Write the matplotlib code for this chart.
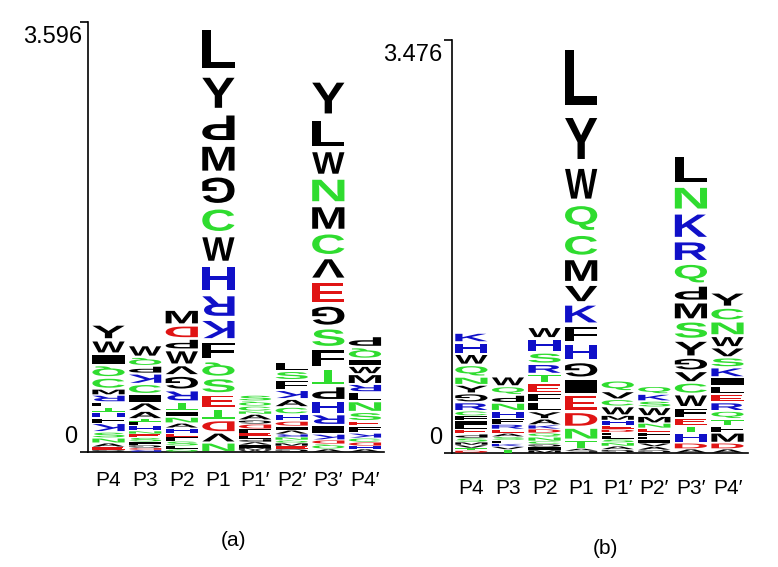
import matplotlib
matplotlib.use("Agg")
import matplotlib.pyplot as plt
import matplotlib.transforms as mtransforms
from matplotlib.patheffects import AbstractPathEffect

plt.rcParams['font.family'] = ['Liberation Sans', 'DejaVu Sans']

positions = ["P4", "P3", "P2", "P1", "P1\u2032", "P2\u2032", "P3\u2032", "P4\u2032"]

# panel (a): letters of each column from top to bottom, with their heights (bits)
letters_a = ["YWIQCMRLTHFKSNAEG", "WQPKCIVATLHNESFGDR", "MDPWVGRTINAHEFSLQ",
             "LYPMGCWHRKFQSETDVN", "SQCNAGDFELPVIMW", "LSFKACHDIVRNQMEG",
             "YLWNMCVEGSFTPHRIKDQA", "PQIWMRLNSEFKCDHA"]
bits_a = [
    [.134, .117, .092, .105, .096, .050, .059, .042, .042, .050, .042, .075, .050, .042, .033, .025, .017],
    [.100, .075, .063, .088, .084, .071, .071, .067, .025, .029, .046, .025, .029, .038, .025, .025, .017, .017],
    [.134, .113, .092, .130, .084, .125, .096, .079, .050, .050, .042, .042, .033, .033, .042, .025, .025],
    [.406, .322, .263, .255, .272, .230, .251, .247, .209, .184, .167, .142, .138, .121, .096, .105, .084, .079],
    [.050, .042, .042, .025, .050, .033, .042, .033, .025, .025, .025, .025, .025, .017, .017],
    [.075, .075, .084, .075, .067, .059, .059, .042, .033, .033, .025, .025, .025, .025, .025, .025],
    [.330, .263, .230, .230, .230, .209, .196, .201, .192, .176, .167, .146, .125, .113, .092, .075, .050, .033, .042, .025],
    [.092, .100, .059, .067, .084, .067, .075, .092, .075, .042, .059, .042, .033, .033, .025, .025],
]
ymax_a = 3.596

# panel (b)
letters_b = ["KHWQNYGRCFILEPSMVTD", "WQPNHFREASLKVT", "WHSRTEFLYAKDQNCGIM",
             "LYWQCMVKFHGIEDNTAP", "QVCWMHEDFLSNAG", "QKSWMNEFLIVAG",
             "LNKRQPMSYGVCWFETHDA", "YCNWVSKILERQTFMDA"]
bits_b = [
    [.080, .097, .093, .101, .067, .072, .076, .072, .042, .042, .034, .034, .042, .034, .034, .025, .025, .021, .021],
    [.084, .072, .067, .067, .067, .046, .042, .034, .029, .029, .029, .025, .025, .029],
    [.097, .118, .097, .084, .080, .084, .076, .076, .063, .051, .034, .034, .034, .034, .025, .025, .025, .025],
    [.585, .442, .320, .257, .202, .223, .164, .181, .156, .152, .143, .135, .143, .135, .105, .072, .021, .017],
    [.093, .067, .059, .076, .042, .042, .034, .025, .029, .029, .029, .029, .029, .029],
    [.067, .059, .051, .076, .059, .042, .034, .034, .029, .029, .029, .029, .025],
    [.261, .223, .240, .189, .189, .139, .160, .164, .147, .114, .097, .097, .114, .088, .067, .055, .088, .051, .034],
    [.130, .114, .126, .097, .084, .084, .084, .076, .063, .072, .072, .067, .059, .055, .088, .051, .034],
]
ymax_b = 3.476

# letters drawn upside down in the original figure
flipped_a = "PGQTDVRK"
flipped_b = "PG"

GREEN, BLUE, RED, BLACK = '#2fdc2f', '#1010c8', '#e01414', '#000000'


def letter_color(c):
    if c in "CNQST":
        return GREEN
    if c in "HKR":
        return BLUE
    if c in "DE":
        return RED
    return BLACK


class FitToBox(AbstractPathEffect):
    """Stretch a glyph so it fills a box given in data coordinates."""

    def __init__(self, ax, x0, y0, x1, y1, flip=False):
        super().__init__()
        self.ax = ax
        self.box = (x0, y0, x1, y1)
        self.flip = flip

    def draw_path(self, renderer, gc, tpath, affine, rgbFace=None):
        ext = tpath.get_extents(affine)
        if ext.width <= 0 or ext.height <= 0:
            return
        x0, y0, x1, y1 = self.box
        (bx0, by0), (bx1, by1) = self.ax.transData.transform([(x0, y0), (x1, y1)])
        sx = (bx1 - bx0) / ext.width
        sy = (by1 - by0) / ext.height
        fit = mtransforms.Affine2D().translate(-ext.x0, -ext.y0)
        if self.flip:
            fit.scale(-sx, -sy).translate(bx1, by1)
        else:
            fit.scale(sx, sy).translate(bx0, by0)
        renderer.draw_path(gc, tpath, affine + fit, rgbFace)


def draw_logo(ax, letters, bits, flipped, width=0.88, fill=0.78):
    for i, (col, hs) in enumerate(zip(letters, bits)):
        y = 0.0
        for c, h in reversed(list(zip(col, hs))):
            pad = h * (1 - fill) / 2
            eff = FitToBox(ax, i - width / 2, y + pad, i + width / 2, y + h - pad, c in flipped)
            fs = max(1.0, h * 60)
            ax.text(i, y + h / 2, c, ha='center', va='center', fontsize=fs,
                    fontweight='bold', color=letter_color(c), path_effects=[eff])
            y += h


def style_axes(ax, ymax, xlim, label_pad, top_dx, zero_dx):
    ax.set_xlim(*xlim)
    ax.set_ylim(0, ymax)
    for s in ['top', 'right']:
        ax.spines[s].set_visible(False)
    for s in ['left', 'bottom']:
        ax.spines[s].set_linewidth(1.2)
    ax.set_yticks([0, ymax])
    ax.set_yticklabels([])
    ax.tick_params(axis='y', length=6, width=1.2, direction='out')
    ax.set_xticks(range(len(positions)))
    ax.set_xticklabels(positions, fontsize=15)
    ax.tick_params(axis='x', length=0, pad=label_pad)
    trans = mtransforms.blended_transform_factory(ax.transAxes, ax.transData)
    ax.text(0, ymax, f"{ymax:.3f}",
            transform=mtransforms.offset_copy(trans, fig=ax.figure, x=top_dx, y=-15, units='dots'),
            ha='right', va='center', fontsize=17)
    ax.text(0, 0, "0",
            transform=mtransforms.offset_copy(trans, fig=ax.figure, x=zero_dx, y=15, units='dots'),
            ha='right', va='center', fontsize=17)


fig = plt.figure(figsize=(7.78, 5.67), dpi=100)
W, H = 778, 567

ax_a = fig.add_axes([88 / W, 1 - 452 / H, (384 - 88) / W, (452 - 22) / H])
style_axes(ax_a, ymax_a, (-0.56, 7.52), 14, -6, -11)
draw_logo(ax_a, letters_a, bits_a, flipped_a)

ax_b = fig.add_axes([452 / W, 1 - 453 / H, (748 - 452) / W, (453 - 40) / H])
style_axes(ax_b, ymax_b, (-0.53, 7.56), 19, -10, -10)
draw_logo(ax_b, letters_b, bits_b, flipped_b)

fig.text(233 / W, 1 - 540 / H, "(a)", ha='center', va='center', fontsize=15)
fig.text(605 / W, 1 - 548 / H, "(b)", ha='center', va='center', fontsize=15)

fig.savefig("out.png", dpi=100)
